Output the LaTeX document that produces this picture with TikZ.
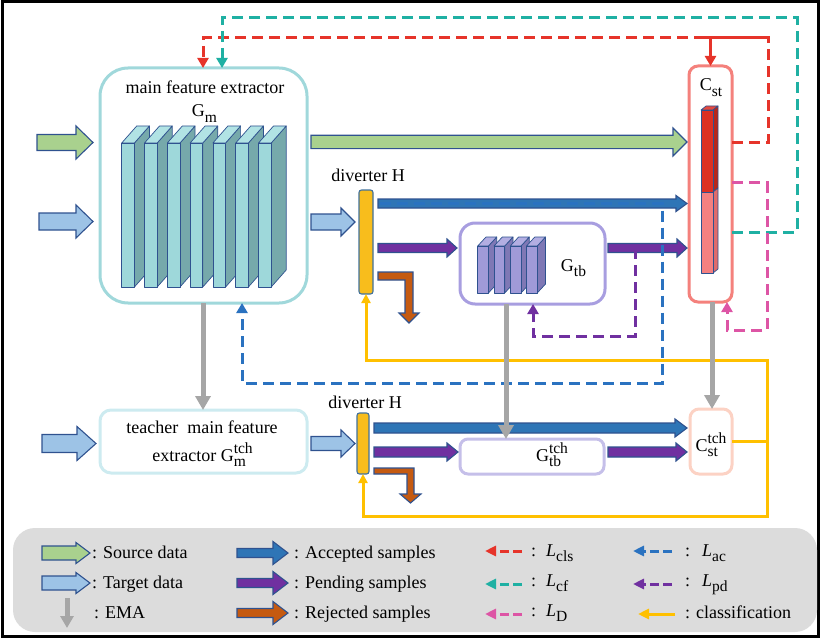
\documentclass[tikz,border=0pt]{standalone}
\usepackage{fontspec}
\setmainfont{Liberation Serif}
\usetikzlibrary{arrows.meta,calc}

\definecolor{edgeblue}{HTML}{2F528F}
\definecolor{divedge}{HTML}{41719C}
\definecolor{srcgreen}{HTML}{A9D18E}
\definecolor{tgtblue}{HTML}{9DC3E6}
\definecolor{accblue}{HTML}{2E75B6}
\definecolor{pendpurple}{HTML}{7030A0}
\definecolor{rejorange}{HTML}{C55A11}
\definecolor{clsyellow}{HTML}{FFC000}
\definecolor{divyellow}{HTML}{F8BD1C}
\definecolor{emagray}{HTML}{A6A6A6}
\definecolor{lclsred}{HTML}{E6342A}
\definecolor{lcfteal}{HTML}{1FB0A3}
\definecolor{ldpink}{HTML}{DD55A5}
\definecolor{lacblue}{HTML}{2A72C0}
\definecolor{lpdpurple}{HTML}{7030A0}
\definecolor{gmframe}{HTML}{A0D8DB}
\definecolor{tbframe}{HTML}{A89EE0}
\definecolor{cstframe}{HTML}{F4817C}
\definecolor{tchframe}{HTML}{CDEBF0}
\definecolor{tbtframe}{HTML}{C5BFE9}
\definecolor{csttframe}{HTML}{FCD2C4}
\definecolor{gmfront}{HTML}{9ED8DA}
\definecolor{gmside}{HTML}{76A9AB}
\definecolor{gmtop}{HTML}{B1E3E4}
\definecolor{tbfront}{HTML}{A09AD8}
\definecolor{tbside}{HTML}{7F78B5}
\definecolor{tbtop}{HTML}{B3AEE2}
\definecolor{barred}{HTML}{DC3023}
\definecolor{barredside}{HTML}{B8261B}
\definecolor{barredtop}{HTML}{E5493E}
\definecolor{barpink}{HTML}{F48080}
\definecolor{barpinkside}{HTML}{E06B6B}
\definecolor{legendgray}{HTML}{DCDCDC}

% lowered subscript, and stacked subscript/superscript (superscript is the wider one)
\newcommand{\lsub}[1]{\raisebox{-5.5pt}{\fontsize{15.5}{16}\selectfont #1}}
\newcommand{\lsubsup}[2]{\makebox[0pt][l]{\raisebox{-5.5pt}{\fontsize{15.5}{16}\selectfont #1}}\raisebox{7.5pt}{\fontsize{15.5}{16}\selectfont #2}}

% block arrow: tail, tip, tail gap, tip gap, shaft half-height, head half-height, head length, fill
\newcommand{\blockarrow}[8]{%
  \filldraw[blockedge, fill=#8] let \p1=(#1), \p2=(#2) in
    (\x1+#3pt,\y2+#5pt) -- (\x2-#4pt-#7pt,\y2+#5pt) -- (\x2-#4pt-#7pt,\y2+#6pt)
    -- (\x2-#4pt,\y2) -- (\x2-#4pt-#7pt,\y2-#6pt) -- (\x2-#4pt-#7pt,\y2-#5pt)
    -- (\x1+#3pt,\y2-#5pt) -- cycle;}

\begin{document}
\begin{tikzpicture}[x=1pt,y=-1pt,
  txt/.style={font=\fontsize{18}{21}\selectfont, inner sep=0pt, text=black},
  blockedge/.style={draw=edgeblue, line width=1.1pt, line join=miter},
  slabedge/.style={draw=edgeblue, line width=0.7pt, line join=round},
  boxbase/.style={fill=white, line width=3pt, inner sep=0pt, outer sep=0pt},
  divbar/.style={draw=divedge, fill=divyellow, line width=1.1pt, rounded corners=2.5pt, inner sep=0pt, outer sep=0pt},
  lossline/.style={line width=3pt, dash pattern=on 11pt off 6pt},
  losstip/.style={-{Triangle[width=11pt,length=10pt]}},
  clsline/.style={draw=clsyellow, line width=3pt},
  emaarrow/.style={draw=emagray, line width=5pt, -{Triangle[width=15pt,length=14pt]}},
  legloss/.style={line width=3pt, dash pattern=on 9.5pt off 3.5pt, -{Triangle[width=10pt,length=11pt]}}]

\useasboundingbox (0,0) rectangle (821,639);

% outer frame and legend panel
\draw[line width=3pt] (2.5,1.5) rectangle (818.5,636.5);
\node[fill=legendgray, rounded corners=22pt, minimum width=804pt, minimum height=104pt, inner sep=0pt] (legend) at (415,580) {};

% boxes
\node[boxbase, draw=gmframe, minimum width=207pt, minimum height=235pt, rounded corners=28pt] (gm) at (203.5,185.5) {};
\node[divbar, minimum width=14pt, minimum height=104pt] (div1) at (366,242) {};
\node[boxbase, draw=tbframe, minimum width=145pt, minimum height=81pt, rounded corners=15pt] (gtb) at (532.5,263.5) {};
\node[boxbase, draw=cstframe, minimum width=43pt, minimum height=236pt, rounded corners=9pt] (cst) at (710.5,184) {};
\node[boxbase, draw=tchframe, minimum width=207pt, minimum height=63pt, rounded corners=11pt] (tch) at (203.5,441.5) {};
\node[divbar, minimum width=12pt, minimum height=61pt] (div2) at (363,443.5) {};
\node[boxbase, draw=tbtframe, minimum width=144pt, minimum height=35pt, rounded corners=8pt] (gtbt) at (532,456.5) {};
\node[boxbase, draw=csttframe, minimum width=42pt, minimum height=65pt, rounded corners=9pt] (cstt) at (711,441.5) {};

% layers of the main feature extractor
\foreach \sx in {121.7,144.5,167.3,190.1,212.9,235.7,258.5} {
  \filldraw[slabedge, fill=gmside] (\sx+12.7,143) -- ++(15,-17) -- ++(0,144) -- (\sx+12.7,287) -- cycle;
  \filldraw[slabedge, fill=gmtop] (\sx,143) -- ++(15,-17) -- ++(12.7,0) -- (\sx+12.7,143) -- cycle;
  \filldraw[slabedge, fill=gmfront] (\sx,143) rectangle (\sx+12.7,287);
}
% layers of G_tb
\foreach \sx in {477.7,494,510.3,526.5} {
  \filldraw[slabedge, fill=tbside] (\sx+10.7,246) -- ++(8.3,-9) -- ++(0,47) -- (\sx+10.7,293) -- cycle;
  \filldraw[slabedge, fill=tbtop] (\sx,246) -- ++(8.3,-9) -- ++(10.7,0) -- (\sx+10.7,246) -- cycle;
  \filldraw[slabedge, fill=tbfront] (\sx,246) rectangle (\sx+10.7,293);
}
% classifier bar
\filldraw[slabedge, fill=barredtop] (701,110) -- (706,106) -- (718,106) -- (713,110) -- cycle;
\filldraw[slabedge, fill=barredside] (713,110) -- (718,106) -- (718,188) -- (713,192) -- cycle;
\filldraw[slabedge, fill=barpinkside] (713,192) -- (718,188) -- (718,269) -- (713,273) -- cycle;
\filldraw[slabedge, fill=barred] (701,110) rectangle (713,192);
\filldraw[slabedge, fill=barpink] (701,192) rectangle (713,273);

% input arrows
\coordinate (srcin) at (37,142.5);
\coordinate (tgtin) at (39,221.5);
\coordinate (tchin) at (42,443.5);
\blockarrow{srcin}{gm.west |- srcin}{0}{7}{8}{16.5}{17}{srcgreen}
\blockarrow{tgtin}{gm.west |- tgtin}{0}{7}{8.5}{16.5}{17}{tgtblue}
\blockarrow{tchin}{tch.west |- tchin}{0}{4}{9}{17}{19}{tgtblue}

% upper branch
\blockarrow{gm.east |- 0,142}{cst.west |- 0,142}{4}{2}{6.7}{14}{14}{srcgreen}
\blockarrow{gm.east |- 0,222}{div1.west |- 0,222}{4}{4}{8}{14}{14}{tgtblue}
\blockarrow{div1.east |- 0,203.5}{cst.west |- 0,203.5}{5}{2}{4.5}{8}{11}{accblue}
\blockarrow{div1.east |- 0,248}{gtb.west |- 0,248}{5}{3}{4.5}{9}{10}{pendpurple}
\blockarrow{gtb.east |- 0,248}{cst.west |- 0,248}{3}{2}{4.5}{9}{10}{pendpurple}
\coordinate (rej1) at ($(div1.east |- 0,272)+(5,0)$);
\filldraw[blockedge, fill=rejorange] (rej1) -- ++(35,0) -- ++(0,41) -- ++(6,0) -- ++(-10,10)
  -- ++(-10,-10) -- ++(6,0) -- ++(0,-33) -- ++(-27,0) -- cycle;

% lower branch
\blockarrow{tch.east |- 0,443.5}{div2.west |- 0,443.5}{4}{2}{7}{13.5}{14}{tgtblue}
\blockarrow{div2.east |- 0,428}{cstt.west |- 0,428}{5}{3}{5}{9}{12}{accblue}
\blockarrow{div2.east |- 0,452}{gtbt.west |- 0,452}{5}{2}{5}{9}{11}{pendpurple}
\blockarrow{gtbt.east |- 0,452}{cstt.west |- 0,452}{4}{3}{5}{9}{11}{pendpurple}
\coordinate (rej2) at ($(div2.east |- 0,468)+(5,0)$);
\filldraw[blockedge, fill=rejorange] (rej2) -- ++(40,0) -- ++(0,26) -- ++(7,0) -- ++(-10.5,9)
  -- ++(-10.5,-9) -- ++(7,0) -- ++(0,-20) -- ++(-33,0) -- cycle;

% classification feedback
\draw[clsline] (cstt.east) -- (cstt.east -| 767,0);
\draw[clsline, {Triangle[width=9pt,length=9pt]}-{Triangle[width=9pt,length=9pt]}]
  (div1.south) -- (366,360) -- (767,360) -- (767,516) -- (363,516) -- (div2.south);

% losses
\draw[lossline, draw=lclsred, losstip] (cst.east |- 0,143) -- (768,143) -- (768,38) -- (203,38) -- (gm.north -| 203,0);
\draw[line width=3pt, draw=lclsred] (702,38) -- (768,38);
\draw[line width=3pt, draw=lclsred, losstip] (cst.north |- 0,38) -- (cst.north);
\draw[lossline, draw=lcfteal, losstip] (cst.east |- 0,232) -- (797,232) -- (797,18) -- (222,18) -- (gm.north -| 222,0);
\draw[lossline, draw=ldpink, losstip] (cst.east |- 0,183) -- (767,183) -- (767,330) -- (727,330) -- (cst.south -| 727,0);
\coordinate (pdsplit) at (635,248);
\draw[lossline, draw=lpdpurple, losstip] (pdsplit) -- (635,336) -- (533,336) -- (gtb.south -| 533,0);
\coordinate (acsplit) at (662,203.5);
\draw[lossline, draw=lacblue, losstip] ($(div1.east |- acsplit)+(7,0)$) -- (acsplit) -- (662,383) -- (242,383) -- (gm.south -| 242,0);

% EMA updates
\draw[emaarrow] (gm.south -| 203,0) -- (tch.north -| 203,0);
\draw[emaarrow] (gtb.south -| 506,0) -- (gtbt.north -| 506,0);
\draw[emaarrow] (cst.south -| 712,0) -- (cstt.north -| 712,0);

% labels
\node[txt, anchor=base] (gmtitle) at (205,94) {main feature extractor};
\node[txt, anchor=base] (gmname) at (204.5,117) {G\lsub{m}};
\node[txt, anchor=base] (div1label) at (368,182) {diverter H};
\node[txt, anchor=base] (cstlabel) at (711,91) {C\lsub{st}};
\node[txt, anchor=base] (gtblabel) at (573.5,271) {G\lsub{tb}};
\node[txt, anchor=base] (tchline1) at (202,433) {teacher\ \ main feature};
\node[txt, anchor=base] (tchline2) at (202.5,461) {extractor G\lsubsup{m}{tch}};
\node[txt, anchor=base] (div2label) at (365,408) {diverter H};
\node[txt, anchor=base] (gtbtlabel) at (552,461) {G\lsubsup{tb}{tch}};
\node[txt, anchor=base] (csttlabel) at (711,451) {C\lsubsup{st}{tch}};

% legend symbols
\blockarrow{42,553}{90,553}{0}{0}{7}{10.5}{14}{srcgreen}
\blockarrow{42,583}{90,583}{0}{0}{7}{10.5}{14}{tgtblue}
\draw[emaarrow, -{Triangle[width=13pt,length=12pt]}] (67,598) -- (67,628);
\blockarrow{237,553}{288,553}{0}{0}{4.5}{11.5}{15}{accblue}
\blockarrow{237,583}{288,583}{0}{0}{4.5}{11.5}{15}{pendpurple}
\blockarrow{237,613}{288,613}{0}{0}{4.5}{11.5}{15}{rejorange}
\draw[legloss, draw=lclsred] (522,551) -- (485,551);
\draw[legloss, draw=lcfteal] (522,584) -- (485,584);
\draw[legloss, draw=ldpink] (522,614) -- (485,614);
\draw[legloss, draw=lacblue] (672,551) -- (633,551);
\draw[legloss, draw=lpdpurple] (672,584) -- (633,584);
\draw[clsline, -{Triangle[width=10pt,length=11pt]}] (675,614) -- (638,614);

% legend texts
\node[txt, anchor=base west] (legsrc) at (92,558) {: Source data};
\node[txt, anchor=base west] (legtgt) at (92,588) {: Target data};
\node[txt, anchor=base west] (legema) at (94,618) {: EMA};
\node[txt, anchor=base west] (legacc) at (294,558) {: Accepted samples};
\node[txt, anchor=base west] (legpend) at (294,588) {: Pending samples};
\node[txt, anchor=base west] (legrej) at (294,618) {: Rejected samples};
\node[txt, anchor=base west] (legcls) at (531,556) {:\hspace{10pt}\textit{L}\lsub{cls}};
\node[txt, anchor=base west] (legcf) at (531,586) {:\hspace{10pt}\textit{L}\lsub{cf}};
\node[txt, anchor=base west] (legd) at (531,616) {:\hspace{10pt}\textit{L}\lsub{D}};
\node[txt, anchor=base west] (legac) at (685,556) {:\hspace{12pt}\textit{L}\lsub{ac}};
\node[txt, anchor=base west] (legpd) at (685,586) {:\hspace{12pt}\textit{L}\lsub{pd}};
\node[txt, anchor=base west] (legclass) at (685,618) {: classification};
\end{tikzpicture}
\end{document}
